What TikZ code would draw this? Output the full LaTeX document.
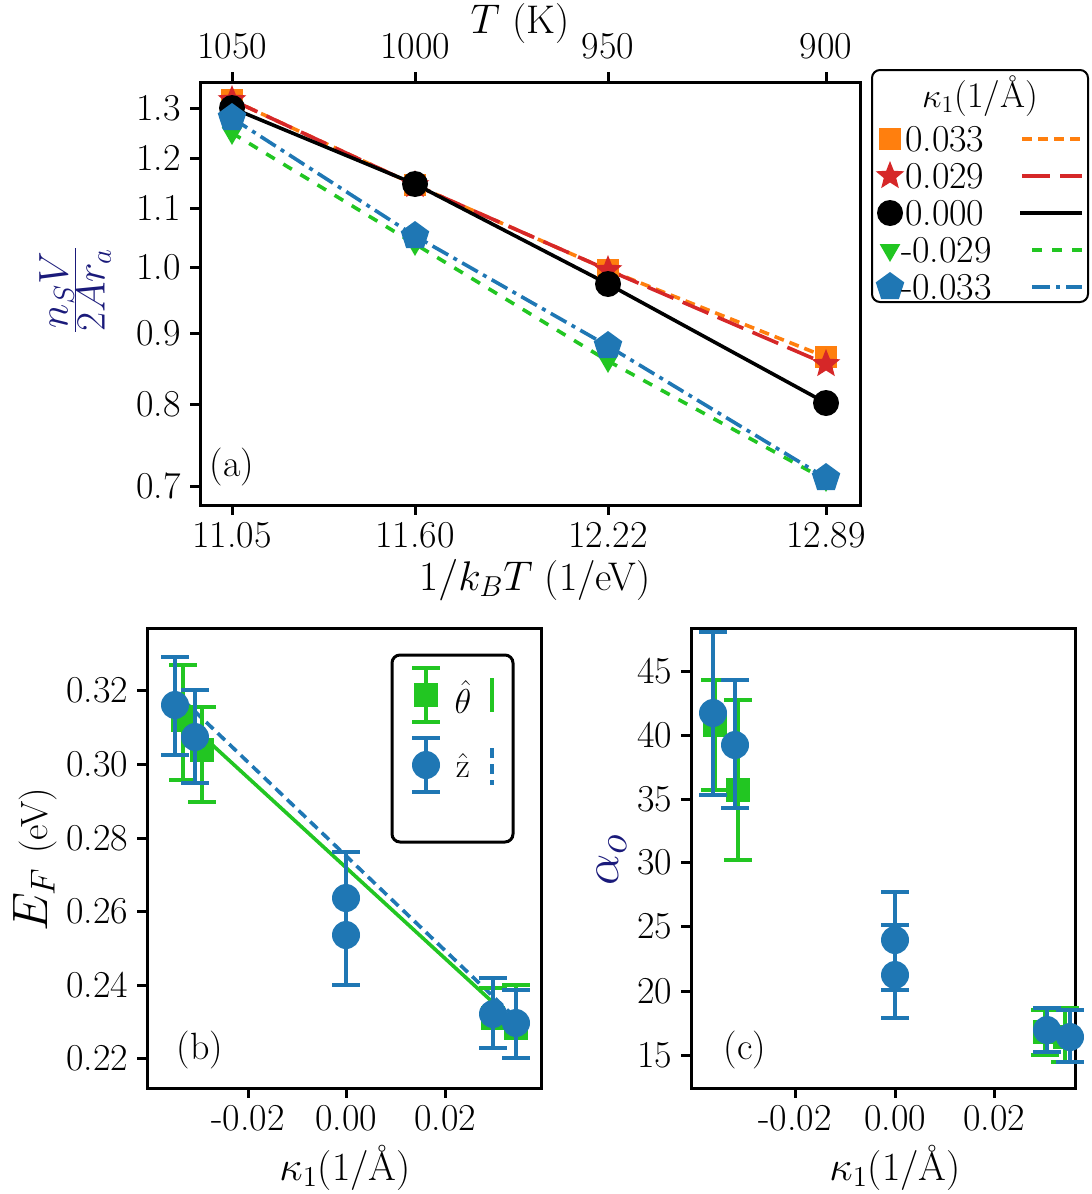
\documentclass[tikz,border=0pt]{standalone}
\usetikzlibrary{shapes.geometric}
\definecolor{cor}{HTML}{FF7F0E}\definecolor{cre}{HTML}{D62728}
\definecolor{cgr}{HTML}{22C622}\definecolor{cbl}{HTML}{1F77B4}
\definecolor{navy}{HTML}{1A1A7A}
\tikzset{frame/.style={line width=1.5pt},
 tk/.style={font=\fontsize{19}{21}\selectfont},
 al/.style={font=\fontsize{20}{22}\selectfont},
 sq/.style={fill=cor,draw=none,minimum size=11pt,inner sep=0pt},
 st/.style={star,star points=5,star point ratio=2.3,fill=cre,draw=none,minimum size=15pt,inner sep=0pt},
 ci/.style={circle,fill=black,minimum size=13pt,inner sep=0pt},
 tr/.style={isosceles triangle,shape border rotate=-90,isosceles triangle apex angle=60,fill=cgr,minimum size=9pt,inner sep=0pt},
 pe/.style={regular polygon,regular polygon sides=5,fill=cbl,minimum size=15pt,inner sep=0pt},
 gsq/.style={fill=cgr,minimum size=12pt,inner sep=0pt},
 bci/.style={circle,fill=cbl,minimum size=14pt,inner sep=0pt},
 eb/.style={line width=2.2pt}}
\begin{document}
\begin{tikzpicture}[x=0.5pt,y=-0.5pt]
\useasboundingbox (0,0) rectangle (1092,1194);
% ===== panel a
\draw[frame] (200,82) rectangle (860,505);
\foreach \x/\l in {232/1050,415/1000,608/950,826/900}{\draw[frame] (\x,82)--(\x,72); \node[tk,above] at (\x,66) {\l};}
\foreach \x/\l in {232/11.05,415/11.60,608/12.22,826/12.89}{\draw[frame] (\x,505)--(\x,515); \node[tk,below] at (\x,515) {\l};}
\foreach \y/\l in {108/1.3,158/1.2,208/1.1,267/1.0,333/0.9,404/0.8,486/0.7}{\draw[frame] (200,\y)--(190,\y); \node[tk,left] at (188,\y) {\l};}
\node[al] at (520,24) {$T$ (K)};
\node[al] at (535,580) {$1/k_BT$ (1/eV)};
\node[al,rotate=90,text=navy,font=\fontsize{30}{32}\selectfont] at (75,290) {$\frac{n_SV}{2Ar_a}$};
\node[tk] at (232,467) {(a)};
\draw[cor,line width=1.8pt,dash pattern=on 5pt off 3pt] (232,100)--(415,185)--(608,270)--(826,357);
\draw[cre,line width=1.8pt,dash pattern=on 14pt off 5pt] (232,100)--(415,185)--(608,270)--(826,364);
\draw[black,line width=1.8pt] (232,108)--(415,184)--(608,284)--(826,403);
\draw[cgr,line width=1.8pt,dash pattern=on 5pt off 5pt] (232,133)--(415,244)--(608,361)--(826,480);
\draw[cbl,line width=1.8pt,dash pattern=on 9pt off 3pt on 2pt off 3pt] (232,118)--(415,236)--(608,346)--(826,478);
\foreach \x/\y [count=\i] in {232/100,415/185,608/270,826/357}{\node[sq] (s\i) at (\x,\y) {};}
\foreach \x/\y [count=\i] in {232/100,415/185,608/270,826/364}{\node[st] (r\i) at (\x,\y) {};}
\foreach \x/\y [count=\i] in {232/108,415/184,608/284,826/403}{\node[ci] (c\i) at (\x,\y) {};}
\foreach \x/\y [count=\i] in {232/133,415/244,608/361,826/480}{\node[tr] (t\i) at (\x,\y) {};}
\foreach \x/\y [count=\i] in {232/118,415/236,608/346,826/478}{\node[pe] (p\i) at (\x,\y) {};}
% legend a
\draw[line width=1pt,rounded corners=4pt] (872,70) rectangle (1088,302);
\node[tk,font=\fontsize{18}{20}\selectfont] at (980,96) {$\kappa_1$(1/Å)};
\node[sq] (ls1) at (890,139) {}; \node[tk,right] at (898,139) {0.033};
\draw[cor,line width=1.8pt,dash pattern=on 5pt off 3pt] (1022,139)--(1082,139);
\node[st] (ls2) at (890,176) {}; \node[tk,right] at (898,176) {0.029};
\draw[cre,line width=1.8pt,dash pattern=on 14pt off 5pt] (1022,176)--(1082,176);
\node[ci] (ls3) at (890,213) {}; \node[tk,right] at (898,213) {0.000};
\draw[line width=1.8pt] (1020,213)--(1082,213);
\node[tr] (ls4) at (890,250) {}; \node[tk,right] at (894,250) {-0.029};
\draw[cgr,line width=1.8pt,dash pattern=on 5pt off 5pt] (1032,250)--(1082,250);
\node[pe] (ls5) at (890,287) {}; \node[tk,right] at (894,287) {-0.033};
\draw[cbl,line width=1.8pt,dash pattern=on 9pt off 3pt on 2pt off 3pt] (1032,287)--(1082,287);
% ===== panel b
\draw[frame] (147,628) rectangle (541,1088);
\foreach \y/\l in {690/0.32,764/0.30,838/0.28,911/0.26,985/0.24,1058/0.22}{\draw[frame] (147,\y)--(137,\y); \node[tk,left] at (135,\y) {\l};}
\foreach \x/\l in {248/-0.02,346/0.00,445/0.02}{\draw[frame] (\x,1088)--(\x,1098); \node[tk,below] at (\x,1098) {\l};}
\node[al] at (345,1168) {$\kappa_1$(1/Å)};
\node[al,rotate=90,font=\fontsize{24}{26}\selectfont] at (35,860) {$E_F$ {\fontsize{19}{21}\selectfont(eV)}};
\node[tk] at (200,1050) {(b)};
\draw[cgr,line width=1.8pt] (183,718)--(523,1030);
\draw[cbl,line width=1.8pt,dash pattern=on 5pt off 3pt] (183,700)--(523,1025);
\foreach \x/\y/\a/\b in {183/720/665/780,202/750/707/802,493/1018/988/1048,516/1028/985/1058}{
 \draw[eb,cgr] (\x,\a)--(\x,\b) (\x-14,\a)--(\x+14,\a) (\x-14,\b)--(\x+14,\b); \node[gsq] at (\x,\y) {};}
\foreach \x/\y/\a/\b in {175/705/657/755,195/737/690/783,346/898/852/935,346/935/898/985,493/1014/978/1048,516/1023/990/1058}{
 \draw[eb,cbl] (\x,\a)--(\x,\b) (\x-14,\a)--(\x+14,\a) (\x-14,\b)--(\x+14,\b); \node[bci] at (\x,\y) {};}
\draw[line width=1.5pt,rounded corners=4pt] (392,655) rectangle (513,842);
\draw[eb,cgr] (426,668)--(426,722) (412,668)--(440,668) (412,722)--(440,722); \node[gsq] at (426,695) {};
\node[tk,inner sep=1pt] at (463,697) {$\hat{\theta}$};\draw[cgr,line width=1.8pt] (492,678)--(492,712);
\draw[eb,cbl] (426,738)--(426,792) (412,738)--(440,738) (412,792)--(440,792); \node[bci] at (426,765) {};
\node[tk,inner sep=1pt] at (463,765) {$\hat{\mathrm z}$};\draw[cbl,line width=1.8pt,dash pattern=on 5pt off 3pt] (492,748)--(492,785);
% ===== panel c
\draw[frame] (691,628) rectangle (1075,1088);
\foreach \y/\l in {671/45,735/40,799/35,862/30,926/25,991/20,1055/15}{\draw[frame] (691,\y)--(681,\y); \node[tk,left] at (679,\y) {\l};}
\foreach \x/\l in {795/-0.02,895/0.00,994/0.02}{\draw[frame] (\x,1088)--(\x,1098); \node[tk,below] at (\x,1098) {\l};}
\node[al] at (895,1168) {$\kappa_1$(1/Å)};
\node[rotate=90,text=navy,font=\fontsize{30}{32}\selectfont] at (612,860) {$\alpha_o$};
\node[tk] at (745,1050) {(c)};
\foreach \x/\y/\a/\b in {715/725/680/790,738/790/700/860,1045/1032/1010/1055,1065/1037/1008/1062}{
 \draw[eb,cgr] (\x,\a)--(\x,\b) (\x-14,\a)--(\x+14,\a) (\x-14,\b)--(\x+14,\b); \node[gsq] at (\x,\y) {};}
\foreach \x/\y/\a/\b in {713/713/632/795,735/745/680/808,895/940/892/990,895/975/925/1018,1047/1030/1008/1052,1070/1037/1010/1062}{
 \draw[eb,cbl] (\x,\a)--(\x,\b) (\x-14,\a)--(\x+14,\a) (\x-14,\b)--(\x+14,\b); \node[bci] at (\x,\y) {};}
\end{tikzpicture}
\end{document}
